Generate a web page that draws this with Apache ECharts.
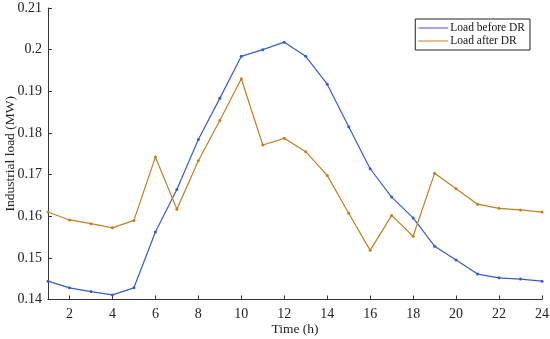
<!DOCTYPE html>
<html><head><meta charset="utf-8">
<script src="https://cdn.jsdelivr.net/npm/echarts@6/dist/echarts.min.js"></script>
<style>html,body{margin:0;padding:0;background:#fff}#c{width:550px;height:339px}</style>
</head><body><div id="c"></div>
<script>
var hours = [1,2,3,4,5,6,7,8,9,10,11,12,13,14,15,16,17,18,19,20,21,22,23,24];
var loadBefore = [0.1444,0.1428,0.1419,0.1411,0.1428,0.1562,0.1664,0.1784,0.1883,0.1984,0.2000,0.2018,0.1984,0.1917,0.1815,0.1714,0.1646,0.1596,0.1528,0.1495,0.1461,0.1452,0.1449,0.1444];
var loadAfter = [0.1610,0.1591,0.1582,0.1572,0.1590,0.1742,0.1617,0.1733,0.1830,0.1930,0.1771,0.1787,0.1755,0.1698,0.1607,0.1518,0.1602,0.1552,0.1703,0.1666,0.1629,0.1619,0.1615,0.1610];
var xTicks = [2,4,6,8,10,12,14,16,18,20,22,24];
var seriesNames = ['Load before DR','Load after DR'];

var font = 'Liberation Serif, Times New Roman, serif';
var chart = echarts.init(document.getElementById('c'));
function pairs(v){ return hours.map(function(h,i){ return [h, v[i]]; }); }
chart.setOption({
  animation:false,
  grid:{left:48,right:8,top:8,bottom:39.5, outerBoundsMode:'none', containLabel:false},
  legend:{
    data:seriesNames, orient:'vertical', right:20, top:19,
    backgroundColor:'#fff', borderColor:'#222', borderWidth:1,
    padding:[3,5,3,3], itemGap:1, itemWidth:30, itemHeight:8,
    textStyle:{fontFamily:font, fontSize:11.5, color:'#111', padding:[0,0,0,-3]},
    icon:'path://M0,4L30,4L30,5L0,5Z'
  },
  xAxis:{
    type:'value', min:1, max:24,
    name:'Time (h)', nameLocation:'middle', nameGap:23, nameMoveOverlap:false,
    nameTextStyle:{fontFamily:font, fontSize:13.5, color:'#222'},
    axisLine:{lineStyle:{color:'#333', width:1}},
    axisTick:{inside:true, length:4, customValues:xTicks, lineStyle:{color:'#333'}},
    axisLabel:{customValues:xTicks, fontFamily:font, fontSize:14, color:'#222', margin:8},
    splitLine:{show:false}
  },
  yAxis:{
    type:'value', min:0.14, max:0.21, interval:0.01,
    name:'Industrial load (MW)', nameLocation:'middle', nameGap:31, nameMoveOverlap:false,
    nameTextStyle:{fontFamily:font, fontSize:13.5, color:'#222'},
    axisLine:{show:true, lineStyle:{color:'#333', width:1}},
    axisTick:{show:true, inside:true, length:4, lineStyle:{color:'#333'}},
    axisLabel:{fontFamily:font, fontSize:14, color:'#222', margin:6},
    splitLine:{show:false}
  },
  series:[
    {name:seriesNames[0], type:'line', data:pairs(loadBefore), symbol:'circle', symbolSize:3,
     itemStyle:{color:'#3A5BC4'}, lineStyle:{color:'#3A5BC4', width:1.2}},
    {name:seriesNames[1], type:'line', data:pairs(loadAfter), symbol:'circle', symbolSize:3,
     itemStyle:{color:'#C07F22'}, lineStyle:{color:'#C07F22', width:1.2}}
  ]
});
</script></body></html>
